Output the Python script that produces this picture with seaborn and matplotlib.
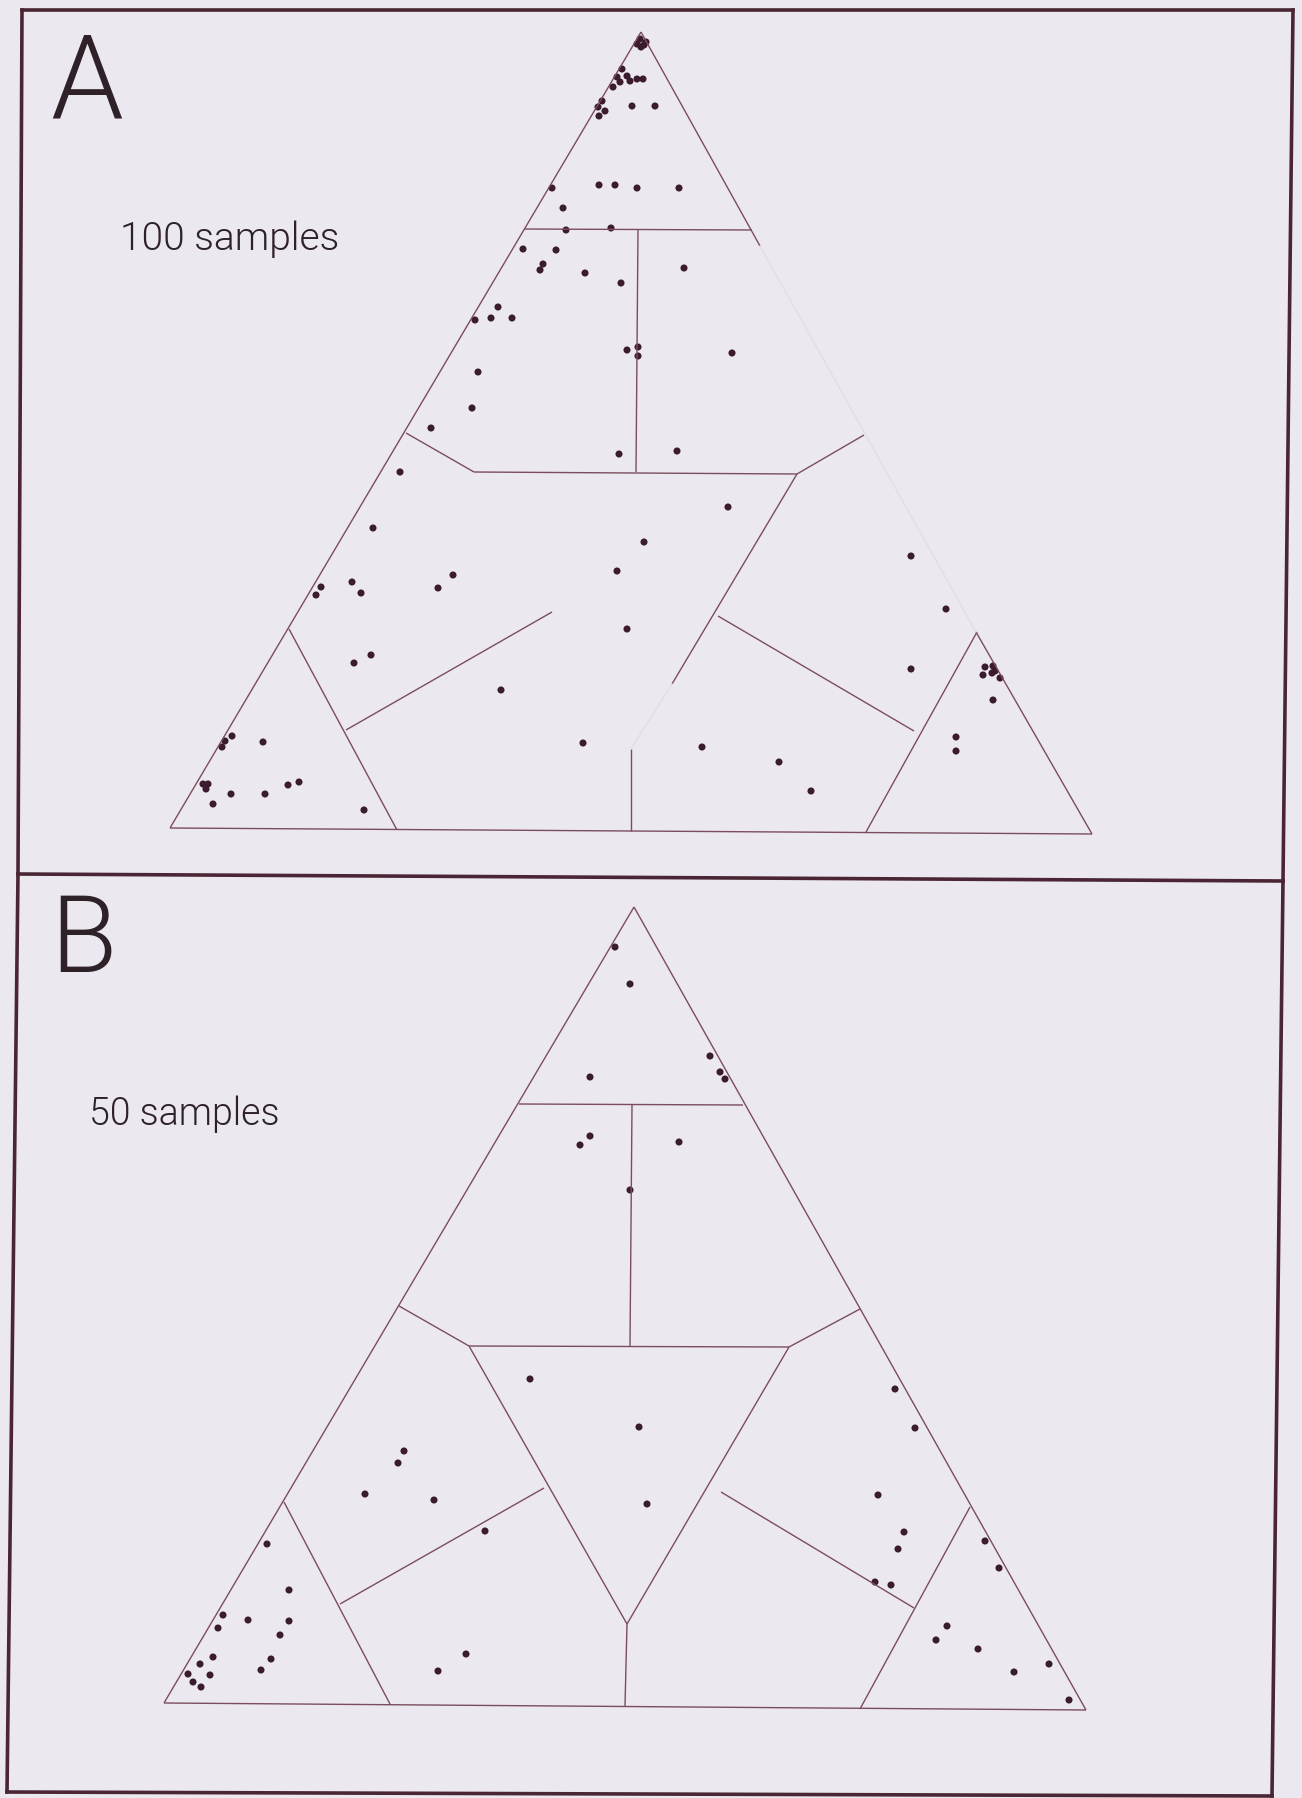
import numpy as np
import pandas as pd
import matplotlib
matplotlib.use("Agg")
import matplotlib.pyplot as plt
import seaborn as sns

# point positions (image pixel units, y down)
a_x = [640, 637, 644, 641, 646,
       622, 617, 613, 620, 630, 637, 643, 627,
       602, 598, 605, 599, 632, 655,
       552, 599, 615, 637, 679, 563, 566, 611, 523, 556,
       543, 540, 585, 621, 684, 498, 475, 491, 512,
       627, 638, 638, 732, 478, 472, 431, 619, 677, 400,
       728, 373, 644, 617, 453, 438, 352, 361, 321, 316, 627,
       371, 354, 501, 911, 946, 911,
       583, 702, 779, 811, 956, 956, 993,
       985, 993, 983, 992, 995, 1000,
       232, 225, 222, 263, 203, 208, 206, 231, 265, 288, 299, 213, 364]
a_y = [40, 45, 46, 48, 43,
       70, 78, 88, 83, 82, 80, 80, 77,
       102, 108, 112, 117, 107, 107,
       189, 186, 186, 189, 189, 209, 231, 229, 250, 251,
       265, 271, 274, 284, 269, 308, 321, 319, 319,
       351, 348, 357, 354, 373, 409, 429, 455, 452, 473,
       508, 529, 543, 572, 576, 589, 583, 594, 588, 596, 630,
       656, 664, 691, 557, 610, 670,
       744, 748, 763, 792, 738, 752, 701,
       668, 667, 676, 674, 672, 679,
       737, 742, 748, 743, 785, 785, 790, 795, 795, 786, 783, 805, 811]

b_x = [615, 630, 710, 720, 725, 590,
       590, 580, 679, 630,
       530, 639, 647,
       404, 398, 365, 434, 485,
       466, 438,
       895, 915, 878, 904, 898, 875, 891,
       985, 999, 947, 936, 978, 1014, 1049, 1069,
       267, 289, 223, 218, 248, 289, 280, 213, 200, 188, 210, 193, 201, 271, 261]
b_y = [948, 985, 1057, 1073, 1080, 1078,
       1137, 1146, 1143, 1191,
       1380, 1428, 1505,
       1452, 1464, 1495, 1501, 1532,
       1655, 1672,
       1390, 1429, 1496, 1533, 1550, 1583, 1586,
       1542, 1569, 1627, 1641, 1650, 1673, 1665, 1701,
       1545, 1591, 1616, 1629, 1621, 1622, 1636, 1658, 1665, 1675, 1676, 1683, 1688, 1660, 1671]

# partition lines of the two diagrams (segment end points)
a_lines = [
    [(641, 33), (170, 829)], [(170, 829), (1092, 835)],
    [(641, 33), (760, 247)], [(976, 633), (1092, 835)],
    [(524, 230), (752, 231)], [(638, 230), (636, 473)],
    [(406, 434), (474, 473)], [(474, 473), (797, 475)], [(797, 475), (864, 436)],
    [(797, 475), (672, 685)], [(631, 750), (631, 832)],
    [(552, 613), (346, 731)], [(289, 630), (397, 831)],
    [(718, 617), (914, 732)], [(977, 633), (866, 833)],
]
a_faint = [[(760, 247), (976, 633)], [(672, 685), (631, 750)]]

b_lines = [
    [(634, 908), (164, 1704)], [(164, 1704), (1086, 1711)], [(634, 908), (1086, 1711)],
    [(519, 1105), (743, 1106)], [(632, 1106), (630, 1347)],
    [(399, 1307), (469, 1347)], [(469, 1347), (789, 1348)], [(789, 1348), (860, 1310)],
    [(469, 1347), (627, 1625)], [(789, 1348), (627, 1625)], [(627, 1625), (625, 1707)],
    [(544, 1489), (340, 1605)], [(284, 1503), (390, 1705)],
    [(721, 1493), (914, 1609)], [(970, 1508), (860, 1710)],
]

frame_lines = [
    [(22, 11), (1293, 11)], [(22, 11), (18, 875)], [(1293, 11), (1283, 882)],
    [(18, 875), (1283, 882)],
    [(18, 875), (7, 1793)], [(1283, 882), (1272, 1797)], [(7, 1793), (1272, 1797)],
]

bg = "#ece8f0"
dot = "#3b1c2e"
edge = "#7b4d5c"
ink = "#2e2228"

sns.set_style("white")
plt.rcParams["font.family"] = ["Roboto", "Lato", "DejaVu Sans"]

fig = plt.figure(figsize=(13.02, 17.99), dpi=100, facecolor=bg)
ax = fig.add_axes([0, 0, 1, 1])
ax.set_facecolor(bg)
ax.set_xlim(0, 1302)
ax.set_ylim(1799, 0)
ax.axis("off")

for seg in a_lines + b_lines:
    (x0, y0), (x1, y1) = seg
    ax.plot([x0, x1], [y0, y1], color=edge, lw=1.0, solid_capstyle="butt")
for seg in a_faint:
    (x0, y0), (x1, y1) = seg
    ax.plot([x0, x1], [y0, y1], color="#e3dde6", lw=1.0)
for seg in frame_lines:
    (x0, y0), (x1, y1) = seg
    ax.plot([x0, x1], [y0, y1], color="#4a2634", lw=2.6, solid_capstyle="projecting")

pts = pd.DataFrame({
    "x": a_x + b_x,
    "y": a_y + b_y,
    "panel": ["A"] * len(a_x) + ["B"] * len(b_x),
})
sns.scatterplot(data=pts, x="x", y="y", hue="panel", palette=[dot, dot],
                s=26, linewidth=0, legend=False, ax=ax)

ax.text(50, 118, "A", fontsize=84, fontweight=300, color=ink,
        ha="left", va="baseline")
ax.text(120, 250, "100 samples", fontsize=28, fontweight=300, color=ink,
        ha="left", va="baseline")
ax.text(50, 972, "B", fontsize=78, fontweight=300, color=ink,
        ha="left", va="baseline")
ax.text(89, 1125, "50 samples", fontsize=27, fontweight=300, color=ink,
        ha="left", va="baseline")

fig.savefig("out.png", dpi=100, facecolor=bg)
